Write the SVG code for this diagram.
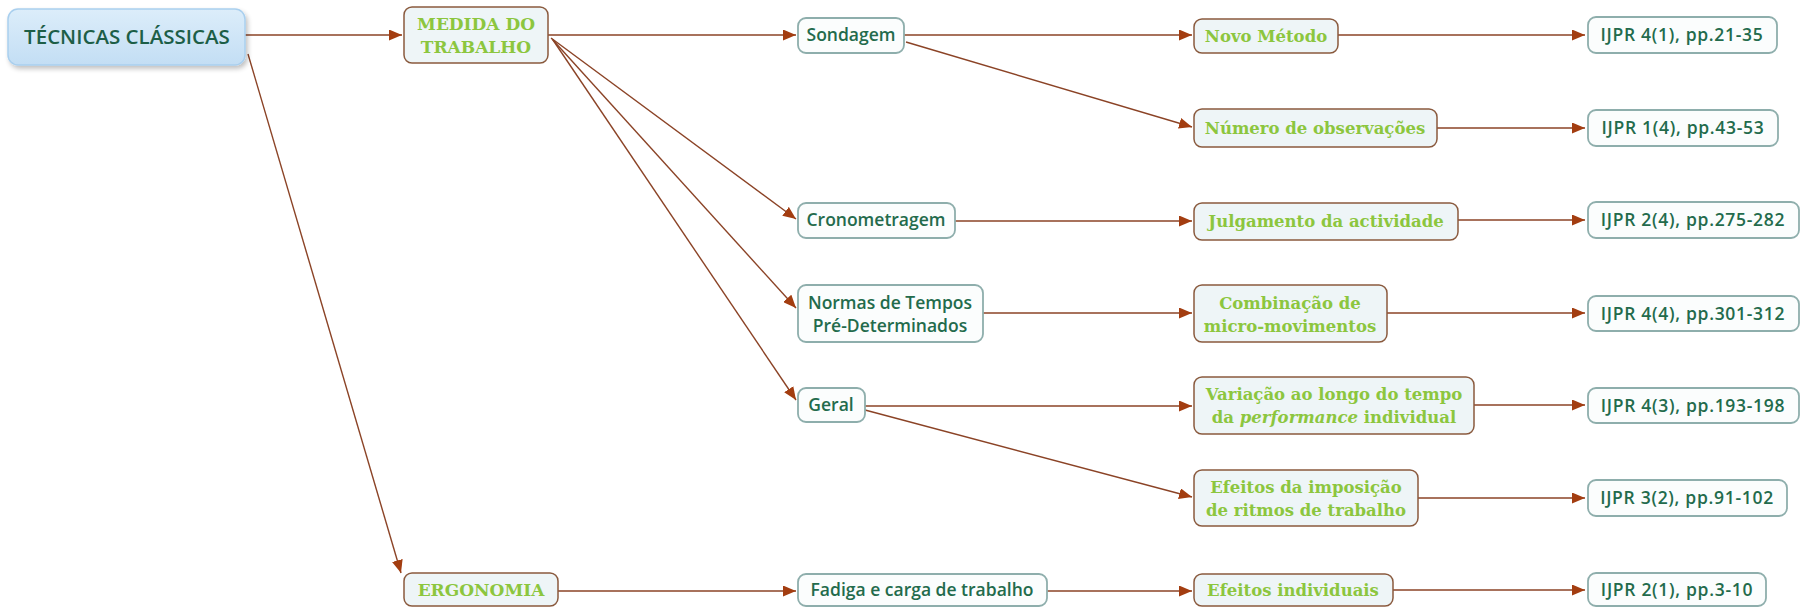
<svg xmlns="http://www.w3.org/2000/svg" width="1803" height="608" viewBox="0 0 1803 608">
  <defs>
    <marker id="arrow" markerUnits="userSpaceOnUse" markerWidth="13" markerHeight="11" refX="13" refY="5.5" orient="auto">
      <path d="M0,0 L13,5.5 L0,11 z" fill="#a33d10"/>
    </marker>
    <linearGradient id="rootFill" x1="0" y1="0" x2="0" y2="1">
      <stop offset="0" stop-color="#dcedfa"/>
      <stop offset="1" stop-color="#c3def4"/>
    </linearGradient>
    <filter id="shadow" x="-10%" y="-20%" width="125%" height="150%">
      <feGaussianBlur in="SourceAlpha" stdDeviation="2.5"/>
      <feOffset dx="2" dy="3" result="b"/>
      <feComponentTransfer><feFuncA type="linear" slope="0.25"/></feComponentTransfer>
      <feMerge><feMergeNode/><feMergeNode in="SourceGraphic"/></feMerge>
    </filter>
  </defs>
  <style>
    .topic { fill: #eef5f7; stroke: #8a5a3e; stroke-width: 1.5; }
    .leaf { fill: #fbfdfd; stroke: #8eaeac; stroke-width: 1.8; }
    .root { fill: url(#rootFill); stroke: #a9cfee; stroke-width: 1.5; }
    .serif { font-family: "DejaVu Serif", "Liberation Serif", serif; font-weight: bold; font-size: 16.5px; fill: #8cc63e; text-anchor: middle; }
    .serif.big { font-size: 17px; }
    .sans { font-family: "Open Sans", "DejaVu Sans", sans-serif; font-weight: 600; font-size: 17.5px; fill: #236b4c; text-anchor: middle; }
    .sans.ref { letter-spacing: 0.7px; }
    .rootText { font-family: "Open Sans", "DejaVu Sans", sans-serif; font-weight: 600; font-size: 20.5px; fill: #1d5e47; text-anchor: middle; }
    .conn line { stroke: #8b4326; stroke-width: 1.4; marker-end: url(#arrow); }
  </style>

  <rect width="1803" height="608" fill="#ffffff"/>

  <!-- connectors -->
  <g id="connectors" class="conn">
    <line x1="245" y1="35" x2="402" y2="35"/>
    <line x1="248" y1="54" x2="401" y2="573"/>
    <line x1="548" y1="35" x2="796" y2="35"/>
    <line x1="551" y1="38" x2="796" y2="219"/>
    <line x1="552" y1="39" x2="796" y2="308"/>
    <line x1="553" y1="40" x2="796" y2="400"/>
    <line x1="904" y1="35" x2="1192" y2="35"/>
    <line x1="906" y1="42" x2="1192" y2="127"/>
    <line x1="955" y1="221" x2="1192" y2="221"/>
    <line x1="983" y1="313" x2="1192" y2="313"/>
    <line x1="865" y1="406" x2="1192" y2="406"/>
    <line x1="865" y1="410" x2="1192" y2="497"/>
    <line x1="558" y1="591" x2="796" y2="591"/>
    <line x1="1047" y1="591" x2="1192" y2="591"/>
    <line x1="1338" y1="35" x2="1585" y2="35"/>
    <line x1="1437" y1="128" x2="1585" y2="128"/>
    <line x1="1458" y1="220" x2="1585" y2="220"/>
    <line x1="1387" y1="313" x2="1585" y2="313"/>
    <line x1="1474" y1="405" x2="1585" y2="405"/>
    <line x1="1418" y1="498" x2="1585" y2="498"/>
    <line x1="1393" y1="590" x2="1585" y2="590"/>
  </g>

  <!-- root -->
  <g id="tecnicas-classicas">
    <rect class="root" x="8" y="9" width="237" height="56" rx="10" filter="url(#shadow)"/>
    <text class="rootText" x="127" y="44">TÉCNICAS CLÁSSICAS</text>
  </g>

  <!-- main topics -->
  <g id="medida-do-trabalho">
    <rect class="topic" x="404" y="7" width="144" height="56" rx="8"/>
    <text class="serif big" x="476" y="30">MEDIDA DO</text>
    <text class="serif big" x="476" y="53">TRABALHO</text>
  </g>
  <g id="ergonomia">
    <rect class="topic" x="404" y="573" width="154" height="33" rx="8"/>
    <text class="serif big" x="481" y="596">ERGONOMIA</text>
  </g>

  <!-- techniques -->
  <g id="sondagem">
    <rect class="leaf" x="798" y="18" width="106" height="35" rx="8"/>
    <text class="sans" x="851" y="41">Sondagem</text>
  </g>
  <g id="cronometragem">
    <rect class="leaf" x="798" y="203" width="157" height="35" rx="8"/>
    <text class="sans" x="876" y="226">Cronometragem</text>
  </g>
  <g id="normas-tempos">
    <rect class="leaf" x="798" y="285" width="185" height="57" rx="8"/>
    <text class="sans" x="890" y="309">Normas de Tempos</text>
    <text class="sans" x="890" y="332">Pré-Determinados</text>
  </g>
  <g id="geral">
    <rect class="leaf" x="798" y="388" width="67" height="34" rx="8"/>
    <text class="sans" x="831" y="411">Geral</text>
  </g>
  <g id="fadiga">
    <rect class="leaf" x="798" y="574" width="249" height="32" rx="8"/>
    <text class="sans" x="922" y="596">Fadiga e carga de trabalho</text>
  </g>

  <!-- study topics -->
  <g id="novo-metodo">
    <rect class="topic" x="1194" y="19" width="144" height="34" rx="8"/>
    <text class="serif" x="1266" y="42">Novo Método</text>
  </g>
  <g id="numero-observacoes">
    <rect class="topic" x="1194" y="109" width="243" height="38" rx="8"/>
    <text class="serif" x="1315" y="134">Número de observações</text>
  </g>
  <g id="julgamento">
    <rect class="topic" x="1194" y="203" width="264" height="37" rx="8"/>
    <text class="serif" x="1326" y="227">Julgamento da actividade</text>
  </g>
  <g id="combinacao">
    <rect class="topic" x="1194" y="285" width="193" height="57" rx="8"/>
    <text class="serif" x="1290" y="309">Combinação de</text>
    <text class="serif" x="1290" y="332">micro-movimentos</text>
  </g>
  <g id="variacao">
    <rect class="topic" x="1194" y="377" width="280" height="57" rx="8"/>
    <text class="serif" x="1334" y="400">Variação ao longo do tempo</text>
    <text class="serif" x="1334" y="423">da <tspan font-style="italic">performance</tspan> individual</text>
  </g>
  <g id="efeitos-imposicao">
    <rect class="topic" x="1194" y="470" width="224" height="56" rx="8"/>
    <text class="serif" x="1306" y="493">Efeitos da imposição</text>
    <text class="serif" x="1306" y="516">de ritmos de trabalho</text>
  </g>
  <g id="efeitos-individuais">
    <rect class="topic" x="1194" y="574" width="199" height="32" rx="8"/>
    <text class="serif" x="1293" y="596">Efeitos individuais</text>
  </g>

  <!-- references -->
  <g id="ref-4-1">
    <rect class="leaf" x="1588" y="17" width="189" height="36" rx="8"/>
    <text class="sans ref" x="1682" y="41">IJPR 4(1), pp.21-35</text>
  </g>
  <g id="ref-1-4">
    <rect class="leaf" x="1588" y="110" width="190" height="36" rx="8"/>
    <text class="sans ref" x="1683" y="134">IJPR 1(4), pp.43-53</text>
  </g>
  <g id="ref-2-4">
    <rect class="leaf" x="1588" y="202" width="211" height="36" rx="8"/>
    <text class="sans ref" x="1693" y="226">IJPR 2(4), pp.275-282</text>
  </g>
  <g id="ref-4-4">
    <rect class="leaf" x="1588" y="296" width="211" height="35" rx="8"/>
    <text class="sans ref" x="1693" y="320">IJPR 4(4), pp.301-312</text>
  </g>
  <g id="ref-4-3">
    <rect class="leaf" x="1588" y="388" width="211" height="35" rx="8"/>
    <text class="sans ref" x="1693" y="412">IJPR 4(3), pp.193-198</text>
  </g>
  <g id="ref-3-2">
    <rect class="leaf" x="1588" y="480" width="199" height="36" rx="8"/>
    <text class="sans ref" x="1687" y="504">IJPR 3(2), pp.91-102</text>
  </g>
  <g id="ref-2-1">
    <rect class="leaf" x="1588" y="573" width="178" height="33" rx="8"/>
    <text class="sans ref" x="1677" y="596">IJPR 2(1), pp.3-10</text>
  </g>
</svg>
